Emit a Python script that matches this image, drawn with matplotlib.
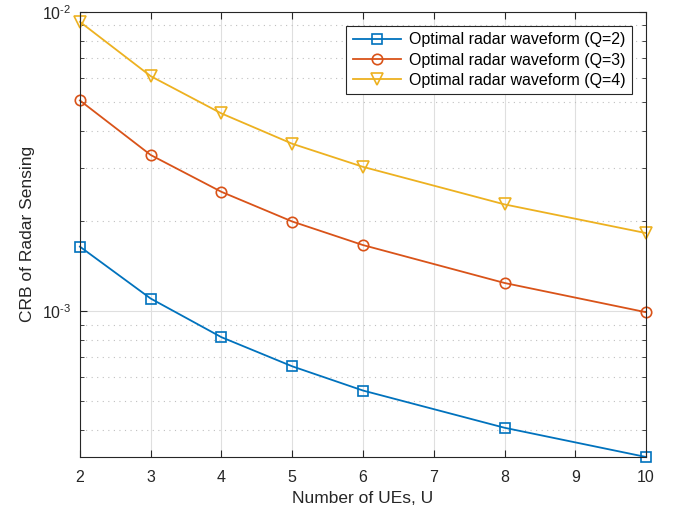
import numpy as np
import matplotlib.pyplot as plt
from matplotlib.ticker import LogLocator, FixedLocator, NullFormatter, FuncFormatter

plt.rcParams['font.family'] = ['Liberation Sans', 'DejaVu Sans']
plt.rcParams['mathtext.fontset'] = 'custom'
plt.rcParams['mathtext.rm'] = 'Liberation Sans'
plt.rcParams['mathtext.it'] = 'Liberation Sans'

# number of UEs
U = [2, 3, 4, 5, 6, 8, 10]

# CRB values
crb_q2 = [1.64e-3, 1.10e-3, 8.17e-4, 6.53e-4, 5.42e-4, 4.07e-4, 3.25e-4]
crb_q3 = [5.05e-3, 3.32e-3, 2.50e-3, 1.99e-3, 1.66e-3, 1.24e-3, 0.99e-3]
crb_q4 = [9.25e-3, 6.09e-3, 4.57e-3, 3.62e-3, 3.03e-3, 2.27e-3, 1.82e-3]

labels = ['Optimal radar waveform (Q=2)',
          'Optimal radar waveform (Q=3)',
          'Optimal radar waveform (Q=4)']

fig = plt.figure(figsize=(6.83, 5.15), dpi=100)
ax = fig.add_axes([0.117, 0.1126, 0.829, 0.8647])

ax.semilogy(U, crb_q2, '-s', color='#0072BD', lw=1.3, ms=6.5, mfc='none', mew=1.2,
            label=labels[0], clip_on=False)
ax.semilogy(U, crb_q3, '-o', color='#D95319', lw=1.3, ms=7.5, mfc='none', mew=1.2,
            label=labels[1], clip_on=False)
ax.semilogy(U, crb_q4, '-v', color='#EDB120', lw=1.3, ms=8.5, mfc='none', mew=1.2,
            label=labels[2], clip_on=False)

ax.set_xlim(2, 10)
ax.set_ylim(3.25e-4, 1e-2)
ax.xaxis.set_major_locator(FixedLocator(range(2, 11)))
ax.yaxis.set_major_locator(LogLocator(base=10, numticks=10))
ax.yaxis.set_minor_locator(LogLocator(base=10, subs=np.arange(2, 10), numticks=20))
ax.yaxis.set_minor_formatter(NullFormatter())
ax.yaxis.set_major_formatter(FuncFormatter(lambda v, p: r'$10^{\text{-%d}}$' % abs(round(np.log10(v)))))

ax.grid(True, which='major', color='#dfdfdf', lw=0.8, ls='-')
ax.grid(True, which='minor', axis='y', color='#c0c0c0', lw=0.8, ls=(0, (1, 4)))
ax.set_axisbelow(True)

ax.tick_params(which='both', direction='in', top=True, right=True, labelsize=11.5,
               color='#262626', labelcolor='#262626')
ax.tick_params(which='major', length=5)
ax.tick_params(axis='x', pad=9)
ax.tick_params(axis='y', pad=6)
ax.tick_params(which='minor', length=3)
for s in ax.spines.values():
    s.set_color('#262626')
    s.set_linewidth(0.8)

ax.set_xlabel('Number of UEs, U', fontsize=12.5, color='#262626', labelpad=5)
ax.set_ylabel('CRB of Radar Sensing', fontsize=12.5, color='#262626', labelpad=5.5)

leg = ax.legend(loc='upper right', fontsize=11.5, fancybox=False, edgecolor='#262626',
                framealpha=1, borderaxespad=0.9, handlelength=3.0, borderpad=0.4,
                labelspacing=0.33, handletextpad=0.5)
leg.get_frame().set_linewidth(0.8)

fig.savefig('out.png', dpi=100)
